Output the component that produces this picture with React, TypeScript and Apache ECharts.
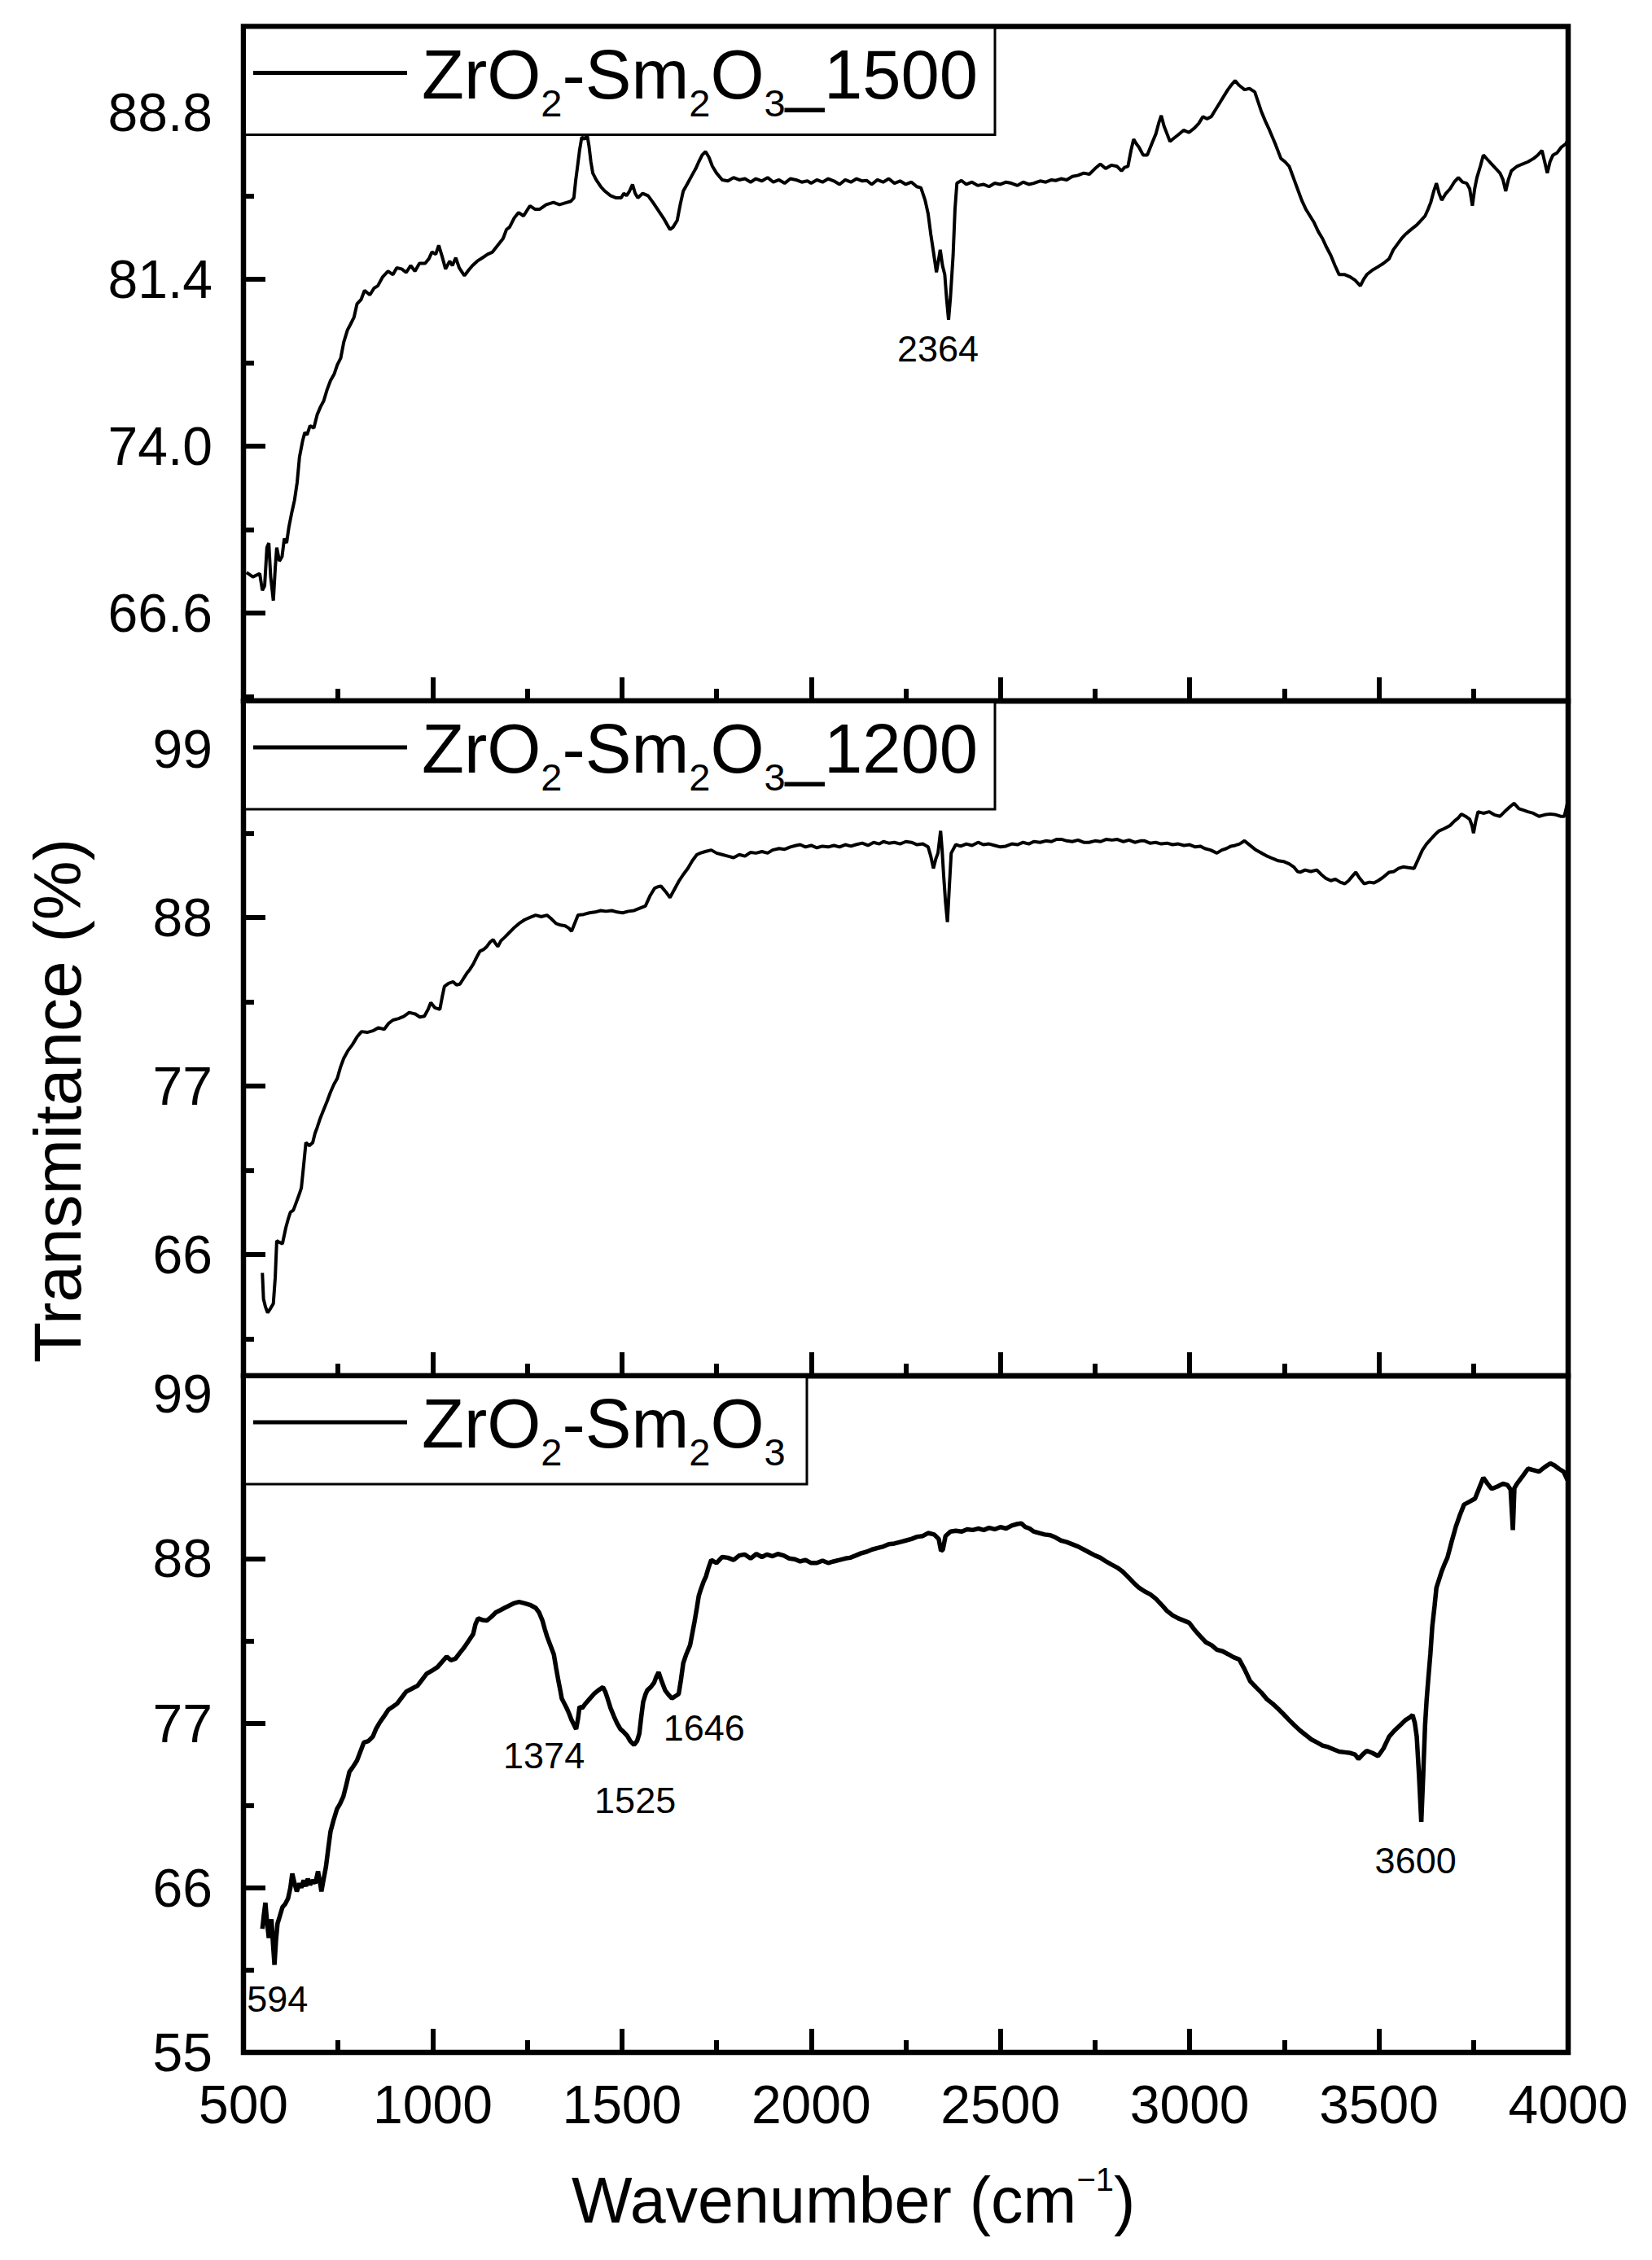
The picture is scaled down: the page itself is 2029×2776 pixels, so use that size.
import React, { useEffect, useRef } from "react";
import * as echarts from "echarts";

const W = 2029;
const H = 2776;
const FONT = '"Liberation Sans", Arial, Helvetica, sans-serif';

// ---------- axes / ticks ----------
const xMin = 500;
const xMax = 4000;
const xStep = 500;

const topYRange = [62.7, 92.6];
const topYTicks = [66.6, 74.0, 81.4, 88.8];
const topYMinor = [62.9, 70.3, 77.7, 85.1];

const midYRange = [58.08, 102.13];
const midYTicks = [66, 77, 88, 99];
const midYMinor = [60.5, 71.5, 82.5, 93.5];

const botYRange = [55, 100.2];
const botYTicks = [55, 66, 77, 88, 99];
const botYMinor = [60.5, 71.5, 82.5, 93.5];

// ---------- series names ----------
const names = ["ZrO2-Sm2O3_1500", "ZrO2-Sm2O3_1200", "ZrO2-Sm2O3"];

// ---------- data: [wavenumber, transmittance] ----------
const s1500: [number, number][] = [
[508,68.4],[525,68.2],[543,68.35],[550,67.6],[556,67.8],[562,69.5],[567,69.7],[572,68.2],[579,67.15],[584,68.6],[588,69.5],[595,68.9],[602,69.1],[608,69.9],[614,69.7],[620,70.4],[627,71.0],[635,71.6],[642,72.4],[648,73.5],[656,74.2],[662,74.6],[668,74.5],[676,74.9],[686,74.8],[695,75.4],[704,75.75],[712,76.0],[721,76.5],[730,76.9],[740,77.2],[748,77.6],[757,77.9],[765,78.6],[775,79.15],[783,79.4],[792,79.7],[800,80.3],[811,80.5],[820,80.9],[834,80.7],[845,81.0],[855,81.1],[868,81.5],[882,81.75],[895,81.6],[905,81.9],[918,81.85],[930,81.7],[942,82.0],[953,81.75],[965,82.1],[980,82.1],[990,82.3],[998,82.6],[1008,82.5],[1016,82.9],[1025,82.4],[1034,81.85],[1045,82.2],[1052,82.0],[1061,82.35],[1070,81.9],[1078,81.7],[1084,81.55],[1095,81.8],[1105,82.0],[1118,82.2],[1132,82.35],[1145,82.5],[1158,82.6],[1172,82.9],[1186,83.2],[1195,83.6],[1203,83.7],[1215,84.1],[1227,84.35],[1240,84.2],[1257,84.65],[1270,84.5],[1283,84.5],[1300,84.7],[1319,84.8],[1335,84.7],[1355,84.8],[1365,84.85],[1373,85.0],[1378,85.8],[1382,86.3],[1388,87.1],[1394,87.7],[1401,87.6],[1408,87.8],[1413,87.3],[1418,86.6],[1423,86.1],[1432,85.8],[1444,85.5],[1455,85.3],[1470,85.1],[1485,85.0],[1498,85.0],[1505,85.2],[1512,85.1],[1520,85.3],[1528,85.6],[1535,85.2],[1542,85.0],[1555,85.2],[1569,85.1],[1582,84.8],[1596,84.45],[1610,84.1],[1620,83.8],[1627,83.6],[1635,83.7],[1646,84.0],[1654,84.7],[1662,85.3],[1672,85.6],[1685,86.0],[1695,86.3],[1703,86.6],[1712,86.9],[1721,87.05],[1730,86.8],[1739,86.4],[1750,86.1],[1765,85.8],[1780,85.75],[1795,85.9],[1810,85.8],[1825,85.85],[1840,85.7],[1854,85.85],[1870,85.75],[1885,85.9],[1900,85.7],[1915,85.8],[1930,85.65],[1945,85.85],[1960,85.8],[1975,85.7],[1990,85.75],[2000,85.65],[2015,85.8],[2030,85.7],[2045,85.85],[2060,85.75],[2075,85.6],[2090,85.8],[2105,85.7],[2120,85.85],[2135,85.75],[2147,85.77],[2160,85.6],[2175,85.8],[2190,85.7],[2205,85.85],[2220,85.65],[2235,85.75],[2250,85.6],[2265,85.7],[2279,85.5],[2290,85.45],[2301,84.9],[2309,84.3],[2316,83.4],[2324,82.5],[2331,81.7],[2336,82.2],[2341,82.7],[2347,82.0],[2353,81.6],[2358,80.5],[2363,79.6],[2368,80.6],[2375,82.45],[2380,84.5],[2385,85.65],[2397,85.77],[2410,85.6],[2425,85.7],[2440,85.55],[2455,85.6],[2470,85.5],[2485,85.65],[2500,85.6],[2515,85.7],[2529,85.65],[2545,85.55],[2560,85.7],[2575,85.6],[2588,85.65],[2605,85.75],[2620,85.7],[2635,85.8],[2646,85.77],[2660,85.85],[2675,85.8],[2690,85.95],[2705,86.0],[2720,86.1],[2735,86.05],[2750,86.3],[2764,86.5],[2778,86.3],[2793,86.45],[2808,86.4],[2820,86.2],[2828,86.35],[2837,86.4],[2845,87.1],[2852,87.6],[2859,87.4],[2866,87.25],[2877,86.9],[2888,86.9],[2900,87.4],[2911,87.85],[2918,88.3],[2925,88.65],[2932,88.2],[2940,87.85],[2948,87.5],[2955,87.6],[2970,87.8],[2984,88.0],[2998,87.9],[3013,88.1],[3024,88.3],[3035,88.6],[3046,88.5],[3057,88.6],[3068,88.9],[3079,89.2],[3090,89.5],[3101,89.8],[3110,90.0],[3120,90.2],[3130,90.0],[3145,89.8],[3158,89.85],[3172,89.7],[3180,89.3],[3189,88.85],[3200,88.4],[3211,88.0],[3226,87.4],[3241,86.75],[3252,86.6],[3263,86.4],[3274,85.9],[3285,85.4],[3296,84.9],[3307,84.5],[3318,84.2],[3329,83.9],[3340,83.5],[3351,83.2],[3362,82.8],[3373,82.45],[3384,82.0],[3395,81.6],[3410,81.6],[3424,81.5],[3437,81.35],[3451,81.1],[3460,81.4],[3468,81.6],[3483,81.8],[3498,81.95],[3512,82.1],[3527,82.3],[3538,82.7],[3549,82.95],[3560,83.2],[3571,83.4],[3585,83.6],[3600,83.8],[3611,84.0],[3622,84.2],[3630,84.5],[3637,84.8],[3645,85.3],[3652,85.65],[3659,85.2],[3666,84.9],[3677,85.2],[3688,85.4],[3699,85.7],[3710,85.9],[3721,85.7],[3732,85.65],[3740,85.4],[3747,84.65],[3753,85.4],[3759,85.9],[3768,86.4],[3776,86.9],[3787,86.7],[3798,86.5],[3809,86.3],[3820,86.1],[3828,85.8],[3835,85.3],[3842,85.8],[3850,86.2],[3865,86.4],[3879,86.5],[3894,86.6],[3909,86.75],[3920,86.9],[3931,87.1],[3938,86.6],[3945,86.1],[3952,86.6],[3960,86.9],[3971,87.0],[3982,87.25],[3994,87.4],[4000,87.6]
];

const s1200: [number, number][] = [
[550,64.8],[553,63.1],[558,62.6],[564,62.2],[572,62.5],[579,62.8],[584,64.5],[588,66.9],[595,66.8],[603,66.7],[612,67.75],[618,68.3],[624,68.75],[632,68.9],[641,69.5],[647,69.9],[653,70.35],[659,71.8],[665,73.3],[674,73.1],[683,73.3],[689,73.9],[695,74.3],[703,74.9],[712,75.45],[721,76.0],[730,76.6],[739,77.1],[748,77.5],[756,78.2],[765,78.8],[776,79.3],[788,79.7],[800,80.2],[812,80.55],[827,80.5],[842,80.6],[856,80.8],[872,80.7],[884,81.1],[895,81.3],[910,81.4],[924,81.55],[938,81.8],[954,81.7],[966,81.5],[978,81.55],[988,82.0],[995,82.45],[1006,82.1],[1019,82.0],[1025,82.8],[1031,83.5],[1042,83.7],[1054,83.8],[1063,83.6],[1072,83.65],[1081,84.0],[1090,84.35],[1098,84.6],[1107,84.95],[1116,85.4],[1125,85.8],[1134,85.9],[1143,86.1],[1152,86.4],[1160,86.55],[1166,86.3],[1172,86.1],[1181,86.5],[1190,86.7],[1202,87.0],[1214,87.3],[1228,87.6],[1243,87.85],[1257,88.0],[1272,88.15],[1287,88.05],[1302,88.15],[1314,87.9],[1326,87.6],[1338,87.5],[1350,87.45],[1360,87.3],[1367,87.1],[1375,87.6],[1384,88.15],[1399,88.2],[1414,88.3],[1429,88.35],[1444,88.45],[1458,88.4],[1473,88.45],[1488,88.35],[1502,88.3],[1517,88.4],[1532,88.45],[1547,88.6],[1562,88.75],[1574,89.4],[1586,89.9],[1595,90.0],[1603,90.05],[1615,89.7],[1627,89.3],[1638,89.8],[1650,90.35],[1662,90.8],[1674,91.2],[1686,91.7],[1698,92.1],[1707,92.2],[1720,92.3],[1736,92.4],[1750,92.2],[1765,92.1],[1780,92.0],[1795,91.9],[1810,92.1],[1825,92.0],[1840,92.25],[1854,92.2],[1870,92.3],[1885,92.2],[1898,92.4],[1915,92.5],[1930,92.45],[1945,92.6],[1960,92.7],[1971,92.75],[1985,92.6],[2000,92.7],[2015,92.55],[2030,92.65],[2045,92.6],[2060,92.7],[2075,92.6],[2090,92.75],[2105,92.65],[2118,92.75],[2135,92.85],[2150,92.7],[2165,92.9],[2180,92.8],[2191,92.95],[2205,92.85],[2220,92.9],[2235,92.8],[2250,92.95],[2265,92.9],[2280,92.75],[2295,92.8],[2309,92.6],[2316,92.0],[2323,91.2],[2329,91.8],[2335,92.2],[2342,93.65],[2346,92.4],[2350,90.75],[2355,89.0],[2360,87.7],[2365,90.0],[2370,92.2],[2382,92.75],[2395,92.65],[2410,92.8],[2425,92.7],[2441,92.9],[2455,92.75],[2470,92.8],[2485,92.7],[2500,92.6],[2514,92.65],[2530,92.8],[2545,92.75],[2560,92.9],[2575,92.8],[2588,92.95],[2605,92.9],[2620,93.0],[2635,92.95],[2648,93.1],[2661,93.1],[2675,93.0],[2690,92.95],[2705,93.05],[2720,92.9],[2734,92.9],[2750,93.0],[2765,92.95],[2780,93.1],[2795,93.05],[2808,93.1],[2825,92.95],[2840,93.05],[2855,92.9],[2870,93.0],[2881,93.0],[2895,92.85],[2910,92.9],[2925,92.8],[2940,92.85],[2955,92.75],[2970,92.8],[2985,92.7],[3000,92.75],[3015,92.6],[3028,92.65],[3040,92.5],[3055,92.4],[3072,92.2],[3085,92.4],[3097,92.5],[3109,92.65],[3120,92.7],[3132,92.8],[3145,93.0],[3155,92.8],[3165,92.6],[3175,92.4],[3190,92.2],[3205,92.0],[3219,91.85],[3234,91.7],[3248,91.65],[3263,91.5],[3275,91.3],[3285,91.0],[3292,90.95],[3305,91.1],[3320,91.0],[3336,91.1],[3348,90.8],[3360,90.55],[3373,90.4],[3385,90.5],[3398,90.3],[3410,90.2],[3420,90.4],[3430,90.7],[3439,90.95],[3448,90.6],[3461,90.2],[3475,90.3],[3487,90.25],[3498,90.4],[3510,90.6],[3527,90.95],[3540,91.0],[3552,91.2],[3564,91.3],[3578,91.25],[3593,91.2],[3604,91.8],[3615,92.4],[3626,92.8],[3637,93.1],[3648,93.4],[3659,93.65],[3673,93.8],[3688,94.0],[3700,94.3],[3710,94.5],[3718,94.75],[3729,94.6],[3740,94.4],[3746,94.0],[3750,93.5],[3756,94.3],[3762,94.9],[3776,94.8],[3791,94.9],[3805,94.7],[3820,94.6],[3832,94.9],[3845,95.2],[3857,95.45],[3870,95.1],[3882,95.0],[3894,94.9],[3908,94.8],[3923,94.6],[3938,94.7],[3953,94.75],[3968,94.7],[3980,94.6],[3990,94.6],[3998,95.45]
];

const sRaw: [number, number][] = [
[550,63.25],[554,64.2],[558,65.0],[562,63.8],[567,62.65],[571,63.4],[574,63.9],[578,62.3],[582,60.85],[586,62.5],[590,63.6],[596,64.1],[603,64.7],[610,64.9],[618,65.3],[624,66.0],[629,66.95],[635,66.3],[641,65.75],[648,66.3],[653,66.0],[659,66.5],[665,66.1],[670,66.6],[676,66.2],[683,66.5],[690,66.3],[697,67.1],[702,66.4],[706,65.75],[712,66.6],[718,67.4],[724,68.6],[730,69.75],[738,70.5],[747,71.25],[755,71.6],[764,72.1],[772,72.9],[780,73.75],[790,74.1],[800,74.5],[809,75.1],[818,75.7],[830,75.8],[842,76.1],[850,76.6],[859,77.0],[870,77.4],[883,77.9],[895,78.1],[906,78.3],[918,78.7],[930,79.1],[945,79.3],[960,79.5],[972,79.9],[984,80.3],[998,80.5],[1013,80.75],[1025,81.1],[1037,81.45],[1048,81.2],[1060,81.3],[1072,81.7],[1083,82.05],[1095,82.5],[1107,82.95],[1113,83.6],[1120,84.0],[1130,83.9],[1143,83.85],[1155,84.1],[1167,84.4],[1179,84.55],[1190,84.7],[1202,84.85],[1214,85.0],[1228,85.1],[1243,85.0],[1257,84.9],[1272,84.7],[1281,84.4],[1290,83.85],[1296,83.3],[1302,82.8],[1311,82.2],[1320,81.6],[1326,80.7],[1332,79.85],[1337,79.2],[1341,78.65],[1348,78.3],[1355,77.95],[1361,77.6],[1367,77.2],[1373,76.9],[1379,76.6],[1384,77.3],[1388,78.1],[1395,78.0],[1402,78.25],[1414,78.6],[1426,78.95],[1438,79.2],[1450,79.4],[1456,79.1],[1462,78.65],[1470,78.0],[1479,77.45],[1487,77.0],[1496,76.6],[1505,76.4],[1514,76.15],[1522,75.8],[1532,75.55],[1540,75.8],[1546,76.3],[1551,77.4],[1556,78.4],[1562,78.9],[1567,79.2],[1576,79.4],[1585,79.7],[1591,80.1],[1597,80.4],[1605,79.8],[1614,79.2],[1623,78.9],[1632,78.65],[1641,78.8],[1650,78.95],[1656,79.9],[1662,81.0],[1670,81.6],[1680,82.2],[1686,83.0],[1692,83.8],[1698,84.7],[1703,85.5],[1708,85.9],[1715,86.4],[1722,86.8],[1729,87.4],[1736,87.9],[1750,87.7],[1765,88.1],[1780,88.05],[1795,87.9],[1810,88.2],[1824,88.27],[1840,88.0],[1855,88.3],[1870,88.1],[1883,88.27],[1898,88.15],[1912,88.3],[1927,88.2],[1942,88.0],[1957,87.95],[1971,87.8],[1985,87.9],[2000,87.7],[2015,87.7],[2030,87.85],[2045,87.7],[2059,87.8],[2075,87.9],[2090,88.0],[2103,88.05],[2118,88.2],[2132,88.35],[2147,88.45],[2161,88.6],[2176,88.7],[2191,88.8],[2205,88.95],[2220,89.0],[2235,89.1],[2250,89.2],[2265,89.3],[2280,89.45],[2295,89.5],[2309,89.7],[2325,89.6],[2337,89.3],[2343,88.5],[2348,88.6],[2355,89.5],[2368,89.8],[2382,89.85],[2398,89.8],[2412,89.95],[2427,89.9],[2441,90.0],[2456,89.9],[2470,90.05],[2485,89.95],[2500,90.1],[2515,90.0],[2530,90.2],[2544,90.3],[2555,90.35],[2566,90.1],[2577,90.0],[2588,89.8],[2603,89.7],[2617,89.6],[2632,89.55],[2646,89.4],[2660,89.2],[2675,89.1],[2690,88.95],[2705,88.8],[2720,88.6],[2735,88.4],[2750,88.2],[2764,88.05],[2779,87.8],[2793,87.6],[2808,87.4],[2822,87.15],[2836,86.8],[2851,86.4],[2866,86.05],[2881,85.8],[2896,85.6],[2911,85.3],[2926,84.9],[2940,84.5],[2955,84.2],[2970,84.0],[2985,83.85],[2999,83.7],[3014,83.2],[3028,82.8],[3043,82.4],[3058,82.2],[3072,81.9],[3087,81.8],[3102,81.6],[3116,81.4],[3131,81.25],[3145,80.6],[3160,79.8],[3175,79.4],[3189,79.05],[3204,78.6],[3219,78.3],[3234,77.95],[3248,77.6],[3263,77.2],[3277,76.85],[3292,76.5],[3307,76.2],[3322,75.9],[3337,75.7],[3351,75.5],[3366,75.4],[3380,75.25],[3395,75.1],[3410,75.05],[3425,75.0],[3437,74.9],[3446,74.6],[3457,74.9],[3468,75.15],[3483,75.0],[3498,74.8],[3512,75.3],[3527,76.1],[3541,76.5],[3556,76.85],[3570,77.2],[3583,77.4],[3589,77.55],[3595,77.0],[3600,76.1],[3606,73.5],[3612,70.4],[3617,73.5],[3622,76.85],[3626,78.5],[3630,79.8],[3636,81.6],[3641,83.45],[3647,84.8],[3652,86.05],[3659,86.6],[3666,87.15],[3673,87.6],[3681,88.05],[3692,89.1],[3703,90.1],[3714,90.9],[3725,91.6],[3740,91.8],[3754,92.0],[3765,92.7],[3776,93.4],[3787,93.0],[3798,92.65],[3813,92.8],[3828,93.0],[3840,92.9],[3848,92.6],[3854,89.9],[3858,92.7],[3865,93.0],[3880,93.5],[3894,94.0],[3909,93.9],[3923,93.8],[3938,94.1],[3953,94.35],[3965,94.2],[3975,94.0],[3988,93.8],[3998,93.25]
];

// ---------- peak annotations: [label, wavenumber, transmittance of label centre] ----------
const peaks1500: [string, number, number][] = [["2364", 2335, 78.32]];
const peaks1200: [string, number, number][] = [];
const peaksRaw: [string, number, number][] = [
  ["594", 590, 58.54],
  ["1374", 1294, 74.8],
  ["1525", 1535, 71.84],
  ["1646", 1717, 76.65],
  ["3600", 3597, 67.8],
];

// ---------- layout ----------
const GL = 299;
const GR = 1926;
const panelTops = [32.5, 861, 1690];
const panelHeights = [828.5, 829, 831];
const legendRight = [1222, 1222, 991];

let measureCtx: CanvasRenderingContext2D | null = null;
function textWidth(t: string, size: number) {
  if (!measureCtx) measureCtx = document.createElement("canvas").getContext("2d");
  measureCtx!.font = `${size}px ${FONT}`;
  return measureCtx!.measureText(t).width;
}

type Piece = { t: string; k: "n" | "sub" | "sup" };

function textPieces(parts: Piece[], x0: number, baseline: number, size: number, small: number, subDy: number, supDy: number) {
  const els: any[] = [];
  let x = x0;
  for (const p of parts) {
    const fs = p.k === "n" ? size : small;
    const base = p.k === "n" ? baseline : p.k === "sub" ? baseline + subDy : baseline - supDy;
    els.push({
      type: "text",
      x,
      y: base - 0.3465 * fs,
      z: 100,
      style: {
        text: p.t,
        fontSize: fs,
        fontFamily: FONT,
        font: `${fs}px ${FONT}`,
        fill: "#000",
        align: "left",
        verticalAlign: "middle",
        textAlign: "left",
        textVerticalAlign: "middle",
      },
    });
    x += textWidth(p.t, fs);
  }
  return els;
}

function legendParts(name: string): Piece[] {
  const suffix = name.replace("ZrO2-Sm2O3", "");
  const parts: Piece[] = [
    { t: "ZrO", k: "n" },
    { t: "2", k: "sub" },
    { t: "-Sm", k: "n" },
    { t: "2", k: "sub" },
    { t: "O", k: "n" },
    { t: "3", k: "sub" },
  ];
  if (suffix) parts.push({ t: suffix, k: "n" });
  return parts;
}

function App() {
  const ref = useRef<HTMLDivElement>(null);

  useEffect(() => {
    document.body.style.margin = "0";
    document.body.style.background = "#fff";
    const chart = echarts.init(ref.current!, undefined, { renderer: "svg" });

    const seriesData = [s1500, s1200, sRaw];
    const peaks = [peaks1500, peaks1200, peaksRaw];
    const yRanges = [topYRange, midYRange, botYRange];
    const yTicks = [topYTicks, midYTicks, botYTicks];
    const yMinor = [topYMinor, midYMinor, botYMinor];
    const lineWidths = [4, 4, 5.5];

    const grids = panelTops.map((t, i) => ({
      left: GL,
      width: GR - GL,
      top: t,
      height: panelHeights[i],
      show: true,
      borderColor: "#000",
      borderWidth: 6.5,
      backgroundColor: "transparent",
    }));

    const xAxes = panelTops.map((_, i) => ({
      type: "value",
      gridIndex: i,
      position: "bottom",
      min: xMin,
      max: xMax,
      interval: xStep,
      axisLine: { show: false },
      axisTick: { show: true, inside: true, length: 29, lineStyle: { color: "#000", width: 6 } },
      minorTick: { show: true, splitNumber: 2, length: 15, lineStyle: { color: "#000", width: 6 } },
      splitLine: { show: false },
      minorSplitLine: { show: false },
      axisLabel: {
        show: i === 2,
        formatter: (v: number) => String(v),
        fontSize: 66,
        fontFamily: FONT,
        color: "#000",
        margin: 31,
      },
    }));

    const yAxes: any[] = [];
    panelTops.forEach((_, i) => {
      const fmt = i === 0 ? (v: number) => v.toFixed(1) : (v: number) => String(Math.round(v));
      yAxes.push({
        type: "value",
        gridIndex: i,
        position: "left",
        offset: 0,
        min: yRanges[i][0],
        max: yRanges[i][1],
        axisLine: { show: false },
        splitLine: { show: false },
        axisTick: {
          show: true,
          inside: true,
          length: 27,
          customValues: yTicks[i],
          lineStyle: { color: "#000", width: 6 },
        },
        axisLabel: {
          show: true,
          customValues: yTicks[i],
          formatter: fmt,
          fontSize: 66,
          fontFamily: FONT,
          color: "#000",
          margin: 38,
        },
      });
      yAxes.push({
        type: "value",
        gridIndex: i,
        position: "left",
        offset: 0,
        min: yRanges[i][0],
        max: yRanges[i][1],
        axisLine: { show: false },
        splitLine: { show: false },
        axisLabel: { show: false },
        axisTick: {
          show: true,
          inside: true,
          length: 13,
          customValues: yMinor[i],
          lineStyle: { color: "#000", width: 6 },
        },
      });
    });

    const series = seriesData.map((d, i) => ({
      type: "line",
      name: names[i],
      xAxisIndex: i,
      yAxisIndex: 2 * i,
      data: d,
      showSymbol: false,
      symbol: "none",
      lineStyle: { color: "#000", width: lineWidths[i] },
      silent: true,
      markPoint: {
        symbol: "circle",
        symbolSize: 1,
        silent: true,
        itemStyle: { color: "rgba(0,0,0,0)" },
        label: {
          show: true,
          position: "inside",
          formatter: (p: any) => p.name,
          fontSize: 45,
          fontFamily: FONT,
          color: "#000",
        },
        data: peaks[i].map(([n, x, y]) => ({ name: n, coord: [x, y] })),
      },
    }));

    const graphics: any[] = [];
    panelTops.forEach((t, i) => {
      graphics.push({
        type: "rect",
        z: 90,
        shape: { x: GL + 1.5, y: t + 1.5, width: legendRight[i] - GL - 1.5, height: 133 - 1.5 },
        style: { fill: "#fff", stroke: "#000", lineWidth: 3 },
      });
      graphics.push({
        type: "line",
        z: 95,
        shape: { x1: 311, y1: t + 57, x2: 500, y2: t + 57 },
        style: { stroke: "#000", lineWidth: 5 },
      });
      graphics.push(...textPieces(legendParts(names[i]), 518, t + 88, 85, 47, 22, 0));
    });

    // x-axis title
    graphics.push(
      ...textPieces(
        [
          { t: "Wavenumber (cm", k: "n" },
          { t: "\u22121", k: "sup" },
          { t: ")", k: "n" },
        ],
        702,
        2730,
        79,
        40,
        0,
        39
      )
    );
    // y-axis title
    graphics.push({
      type: "text",
      x: 70.6,
      y: 1352,
      rotation: Math.PI / 2,
      z: 100,
      style: {
        text: "Transmitance (%)",
        fontSize: 82,
        fontFamily: FONT,
        font: `82px ${FONT}`,
        fill: "#000",
        align: "center",
        verticalAlign: "middle",
        textAlign: "center",
        textVerticalAlign: "middle",
      },
    });

    chart.setOption({
      animation: false,
      backgroundColor: "#fff",
      grid: grids,
      xAxis: xAxes,
      yAxis: yAxes,
      series,
      graphic: { elements: graphics },
    } as any);

    return () => chart.dispose();
  }, []);

  return <div ref={ref} style={{ width: W, height: H }} />;
}

export default App;
